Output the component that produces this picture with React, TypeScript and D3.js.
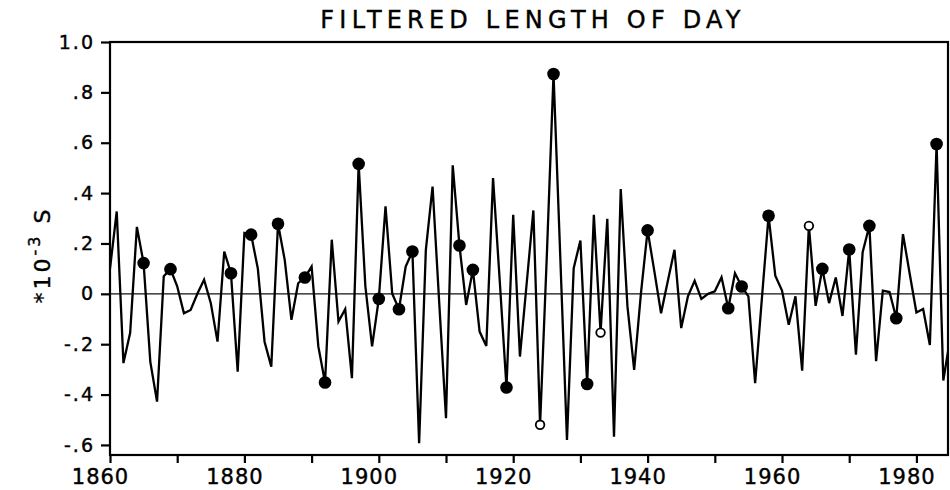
import React, { useEffect, useRef } from "react";
import * as d3 from "d3";

// annual values, 1860 .. 1985 (units of 1e-3 s)
const startYear = 1860;
const lodValues = [
  0.1, 0.327, -0.275, -0.155, 0.266, 0.122, -0.27, -0.428, 0.07, 0.098,
  0.03, -0.077, -0.064, 0.0, 0.056, -0.037, -0.19, 0.168, 0.082, -0.309,
  0.242, 0.235, 0.1, -0.19, -0.289, 0.278, 0.135, -0.103, 0.042, 0.065,
  0.108, -0.209, -0.352, 0.215, -0.11, -0.061, -0.335, 0.516, 0.03, -0.209,
  -0.02, 0.347, 0.0, -0.061, 0.108, 0.168, -0.593, 0.175, 0.426, -0.04,
  -0.494, 0.51, 0.192, -0.044, 0.095, -0.15, -0.207, 0.46, 0.05, -0.372,
  0.314, -0.249, 0.04, 0.331, -0.52, 0.15, 0.873, 0.15, -0.58, 0.102,
  0.212, -0.358, 0.314, -0.154, 0.298, -0.567, 0.416, -0.05, -0.302, 0.0,
  0.252, 0.09, -0.077, 0.05, 0.175, -0.136, -0.01, 0.052, -0.02, 0.0,
  0.01, 0.066, -0.057, 0.082, 0.029, -0.01, -0.355, -0.02, 0.31, 0.072,
  0.013, -0.123, -0.01, -0.305, 0.27, -0.048, 0.099, -0.037, 0.065, -0.088,
  0.176, -0.242, 0.165, 0.27, -0.267, 0.013, 0.007, -0.097, 0.237, 0.08,
  -0.074, -0.06, -0.203, 0.595, -0.344, -0.18,
];
const filledYears = [
  1865, 1869, 1878, 1881, 1885, 1889, 1892, 1897, 1900, 1903, 1905, 1912,
  1914, 1919, 1926, 1931, 1940, 1952, 1954, 1958, 1966, 1970, 1973, 1977, 1983,
];
const openYears = [1924, 1933, 1964];
const yTicks = [-0.6, -0.4, -0.2, 0, 0.2, 0.4, 0.6, 0.8, 1.0];
const yTickLabels = ["-.6", "-.4", "-.2", "0", ".2", ".4", ".6", ".8", "1.0"];
const xTicks = [1860, 1870, 1880, 1890, 1900, 1910, 1920, 1930, 1940, 1950, 1960, 1970, 1980];
const xLabelYears = [1860, 1880, 1900, 1920, 1940, 1960, 1980];

const App = () => {
  const ref = useRef<SVGSVGElement>(null);

  useEffect(() => {
    const width = 950;
    const height = 490;
    const left = 110;
    const right = 948;
    const top = 42;
    const bottom = 455;
    const font = "'DejaVu Sans', sans-serif";

    const svg = d3.select(ref.current).attr("width", width).attr("height", height);

    const data = lodValues.map((v, i) => ({ year: startYear + i, value: v }));
    const valueAt = (yr) => data.find((d) => d.year === yr)!.value;

    const x = d3.scaleLinear().domain([1860, 1984.7]).range([left, right]);
    const y = d3.scaleLinear().domain([-0.64, 1.0]).range([bottom, top]);

    svg
      .append("defs")
      .append("clipPath")
      .attr("id", "plot-clip")
      .append("rect")
      .attr("x", left)
      .attr("y", top)
      .attr("width", right - left)
      .attr("height", bottom - top);

    // zero line
    svg
      .append("line")
      .attr("x1", left)
      .attr("x2", right)
      .attr("y1", y(0))
      .attr("y2", y(0))
      .attr("stroke", "#111")
      .attr("stroke-width", 1.4);

    const line = d3
      .line<{ year: number; value: number }>()
      .x((d) => x(d.year))
      .y((d) => y(d.value));

    svg
      .append("path")
      .datum(data)
      .attr("clip-path", "url(#plot-clip)")
      .attr("d", line)
      .attr("fill", "none")
      .attr("stroke", "#000")
      .attr("stroke-width", 2.3)
      .attr("stroke-linejoin", "miter");

    svg
      .selectAll(".dot")
      .data(filledYears)
      .enter()
      .append("circle")
      .attr("cx", (d) => x(d))
      .attr("cy", (d) => y(valueAt(d)))
      .attr("r", 6.3)
      .attr("fill", "#000");

    svg
      .selectAll(".open")
      .data(openYears)
      .enter()
      .append("circle")
      .attr("cx", (d) => x(d))
      .attr("cy", (d) => y(valueAt(d)))
      .attr("r", 4.3)
      .attr("fill", "#fff")
      .attr("stroke", "#000")
      .attr("stroke-width", 1.8);

    // frame
    svg
      .append("rect")
      .attr("x", left)
      .attr("y", top)
      .attr("width", right - left)
      .attr("height", bottom - top)
      .attr("fill", "none")
      .attr("stroke", "#000")
      .attr("stroke-width", 2.2);

    // y axis
    const yAxis = d3
      .axisLeft(y)
      .tickValues(yTicks)
      .tickSize(9)
      .tickPadding(6)
      .tickFormat((d, i) => yTickLabels[i]);
    const gy = svg.append("g").attr("transform", `translate(${left},0)`).call(yAxis);
    gy.select(".domain").remove();
    gy.selectAll("line").attr("stroke", "#000").attr("stroke-width", 2.2);
    gy.selectAll("text")
      .attr("font-family", font)
      .attr("font-size", 19)
      .attr("letter-spacing", 2)
      .attr("stroke", "#000")
      .attr("stroke-width", 0.4)
      .attr("fill", "#000");

    // x axis
    const xAxis = d3
      .axisBottom(x)
      .tickValues(xTicks)
      .tickSize(8)
      .tickPadding(6)
      .tickFormat((d) => (xLabelYears.includes(d as number) ? String(d) : ""));
    const gx = svg.append("g").attr("transform", `translate(0,${bottom})`).call(xAxis);
    gx.select(".domain").remove();
    gx.selectAll("line").attr("stroke", "#000").attr("stroke-width", 2.2);
    gx.selectAll("text")
      .attr("dx", -10)
      .attr("font-family", font)
      .attr("font-size", 21)
      .attr("letter-spacing", 1)
      .attr("stroke", "#000")
      .attr("stroke-width", 0.4)
      .attr("fill", "#000");

    // title
    svg
      .append("text")
      .attr("x", 533)
      .attr("y", 28)
      .attr("text-anchor", "middle")
      .attr("font-family", font)
      .attr("font-size", 24)
      .attr("letter-spacing", 5.2)
      .attr("stroke", "#000")
      .attr("stroke-width", 0.4)
      .text("FILTERED LENGTH OF DAY");

    // y label
    const yl = svg
      .append("text")
      .attr("transform", `translate(50,255) rotate(-90)`)
      .attr("text-anchor", "middle")
      .attr("font-family", font)
      .attr("font-size", 22)
      .attr("letter-spacing", 3)
      .attr("stroke", "#000")
      .attr("stroke-width", 0.4);
    yl.append("tspan").text("*10");
    yl.append("tspan").attr("dy", -10).attr("font-size", 16).text("-3");
    yl.append("tspan").attr("dy", 10).text(" S");

    return () => {
      d3.select(ref.current).selectAll("*").remove();
    };
  }, []);

  return <svg ref={ref} style={{ position: "absolute", left: 0, top: 0 }}></svg>;
};

export default App;
